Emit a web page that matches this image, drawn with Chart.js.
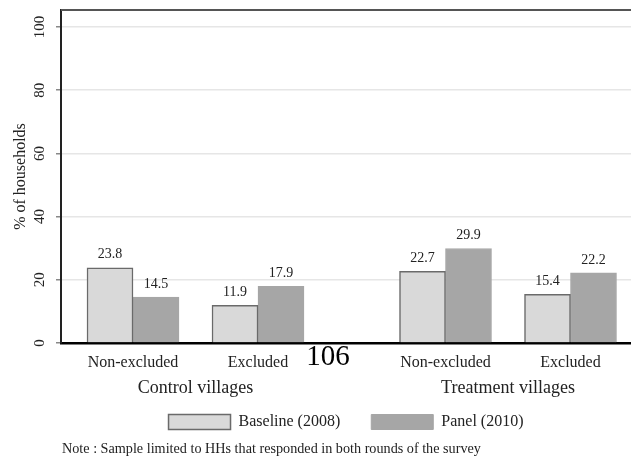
<!DOCTYPE html>
<html><head><meta charset="utf-8">
<script src="https://cdn.jsdelivr.net/npm/chart.js@4.4.1/dist/chart.umd.min.js"></script>
<style>html,body{margin:0;padding:0;background:#fff;overflow:hidden}#wrap{width:631px;height:459px;position:relative}</style>
</head><body><div id="wrap"><canvas id="c" width="631" height="459"></canvas></div>
<script>
const categories = ['Non-excluded', 'Excluded', 'Non-excluded', 'Excluded'];
const categoryX = [1, 2, 3.5, 4.5];
const groups = ['Control villages', 'Treatment villages'];
const groupOf = [0, 0, 1, 1];
const baseline = [23.8, 11.9, 22.7, 15.4];
const panel = [14.5, 17.9, 29.9, 22.2];
const seriesNames = ['Baseline (2008)', 'Panel (2010)'];
const yTicks = [0, 20, 40, 60, 80, 100];
const yTitle = '% of households';
const note = 'Note : Sample limited to HHs that responded in both rounds of the survey';
const pageNumber = '106';

const SERIF = '"Liberation Serif", "Times New Roman", serif';
const TXT = '#222';

const extras = {
  id: 'extras',
  afterDraw(chart) {
    const ctx = chart.ctx, ca = chart.chartArea;
    const xs = chart.scales.x, ys = chart.scales.y;
    ctx.save();
    // top frame
    ctx.strokeStyle = '#555'; ctx.lineWidth = 2;
    ctx.beginPath(); ctx.moveTo(ca.left, ca.top); ctx.lineTo(ca.right + 2, ca.top); ctx.stroke();
    // y tick labels (rotated)
    ctx.fillStyle = TXT; ctx.font = '15px ' + SERIF;
    ctx.textAlign = 'center'; ctx.textBaseline = 'middle';
    ys.ticks.forEach(t => {
      const y = ys.getPixelForValue(t.value);
      ctx.save(); ctx.translate(40, y); ctx.rotate(-Math.PI / 2);
      ctx.fillText(String(t.value), 0, 0); ctx.restore();
    });
    // value labels
    ctx.font = '14px ' + SERIF;
    chart.data.datasets.forEach((ds, di) => {
      const meta = chart.getDatasetMeta(di);
      meta.data.forEach((el, i) => {
        ctx.fillText(ds.data[i].y.toFixed(1), el.x, el.y - 13);
      });
    });
    // group labels
    ctx.font = '18px ' + SERIF;
    groups.forEach((g, gi) => {
      const xsIn = categoryX.filter((v, i) => groupOf[i] === gi);
      const mid = (Math.min(...xsIn) + Math.max(...xsIn)) / 2;
      ctx.fillText(g, xs.getPixelForValue(mid), 388);
    });
    // page number
    ctx.fillStyle = '#000'; ctx.font = '29px ' + SERIF;
    ctx.fillText(pageNumber, 328, 357);
    // note
    ctx.fillStyle = TXT; ctx.font = '14.2px ' + SERIF; ctx.textAlign = 'left';
    ctx.fillText(note, 62, 449);
    ctx.restore();
  }
};

new Chart(document.getElementById('c'), {
  type: 'bar',
  data: {
    datasets: [
      { label: seriesNames[0], data: categoryX.map((x, i) => ({ x, y: baseline[i] })),
        backgroundColor: '#d9d9d9', borderColor: '#6a6a6a', borderWidth: 1.5, borderSkipped: 'bottom',
        barThickness: 46 },
      { label: seriesNames[1], data: categoryX.map((x, i) => ({ x, y: panel[i] })),
        backgroundColor: '#a6a6a6', borderColor: '#a6a6a6', borderWidth: 1, borderSkipped: 'bottom',
        barThickness: 46 }
    ]
  },
  options: {
    responsive: false, animation: false,
    layout: { padding: { left: 0, right: 0, top: 10, bottom: 19 } },
    plugins: {
      legend: {
        position: 'bottom', fullSize: false,
        labels: { boxWidth: 62, boxHeight: 15, padding: 31, color: TXT, font: { family: SERIF, size: 16 } }
      },
      tooltip: { enabled: false }
    },
    scales: {
      x: {
        type: 'linear', min: 0.424, max: 4.984, offset: false,
        afterBuildTicks: s => { s.ticks = categoryX.map(v => ({ value: v })); },
        afterFit: s => { s.height = 40; },
        ticks: { autoSkip: false, maxRotation: 0, padding: 10, color: TXT, font: { family: SERIF, size: 16 },
                 callback: (v, i) => categories[i] },
        grid: { display: false, drawTicks: false, offset: false },
        border: { display: true, color: '#000', width: 2.5 }
      },
      y: {
        min: 0, max: 105.4,
        afterBuildTicks: s => { s.ticks = yTicks.map(v => ({ value: v })); },
        afterFit: s => { s.width = 61; },
        ticks: { display: false },
        grid: { color: '#e6e6e6', lineWidth: 1.5, tickColor: '#888', tickLength: 5, drawTicks: true },
        border: { display: true, color: '#222', width: 2 },
        title: { display: true, text: yTitle, color: TXT, font: { family: SERIF, size: 16 }, padding: { top: 11, bottom: 0 } }
      }
    }
  },
  plugins: [extras]
});
</script></body></html>
